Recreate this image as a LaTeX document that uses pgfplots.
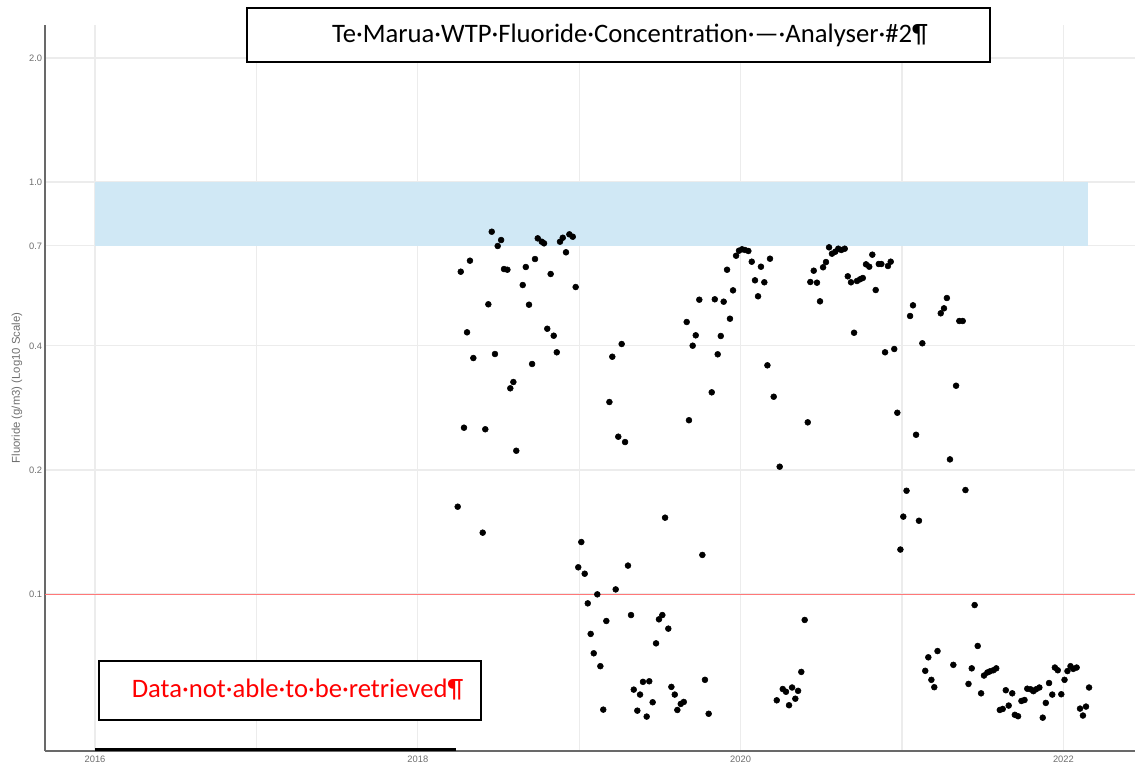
\documentclass[border=0pt]{standalone}
\usepackage{pgfplots}
\usepackage{pgfplotstable}
\pgfplotsset{compat=1.18}
\usepackage{fontspec}
\setmainfont{Liberation Sans}
\newfontfamily\carlito{Carlito}
\definecolor{bandblue}{RGB}{208,232,245}
\definecolor{refred}{RGB}{255,120,120}
\definecolor{gridgray}{RGB}{236,236,236}
\definecolor{axisgray}{RGB}{105,105,105}
\definecolor{ticktext}{RGB}{110,110,110}

\pgfplotstableread{
year value
2018.247 0.1629
2018.266 0.6058
2018.286 0.2533
2018.305 0.4317
2018.323 0.6442
2018.344 0.3739
2018.402 0.1409
2018.418 0.2511
2018.437 0.5049
2018.458 0.7575
2018.478 0.3824
2018.495 0.6994
2018.516 0.7231
2018.534 0.6149
2018.555 0.6125
2018.573 0.3157
2018.592 0.3270
2018.610 0.2227
2018.650 0.5623
2018.669 0.6219
2018.689 0.5037
2018.708 0.3617
2018.726 0.6503
2018.743 0.7300
2018.768 0.7163
2018.782 0.7099
2018.802 0.4404
2018.823 0.5981
2018.842 0.4236
2018.861 0.3861
2018.881 0.7163
2018.898 0.7325
2018.918 0.6752
2018.939 0.7466
2018.960 0.7366
2018.978 0.5560
2018.994 0.1161
2019.013 0.1337
2019.034 0.1120
2019.053 0.0949
2019.071 0.0800
2019.090 0.0718
2019.112 0.0998
2019.131 0.0668
2019.149 0.0524
2019.168 0.0860
2019.187 0.2924
2019.205 0.3767
2019.226 0.1026
2019.242 0.2409
2019.263 0.4044
2019.284 0.2338
2019.302 0.1172
2019.321 0.0889
2019.338 0.0586
2019.360 0.0521
2019.377 0.0570
2019.395 0.0612
2019.418 0.0504
2019.434 0.0614
2019.455 0.0546
2019.476 0.0759
2019.494 0.0868
2019.515 0.0889
2019.532 0.1532
2019.552 0.0824
2019.571 0.0595
2019.592 0.0570
2019.608 0.0523
2019.629 0.0541
2019.648 0.0547
2019.666 0.4573
2019.680 0.2641
2019.703 0.4006
2019.722 0.4245
2019.744 0.5180
2019.763 0.1244
2019.779 0.0619
2019.802 0.0512
2019.821 0.3087
2019.840 0.5192
2019.858 0.3818
2019.877 0.4229
2019.895 0.5123
2019.916 0.6125
2019.934 0.4658
2019.953 0.5458
2019.972 0.6624
2019.990 0.6813
2020.009 0.6867
2020.027 0.6840
2020.048 0.6801
2020.069 0.6406
2020.089 0.5773
2020.108 0.5280
2020.126 0.6229
2020.147 0.5710
2020.166 0.3590
2020.182 0.6514
2020.205 0.3012
2020.224 0.0552
2020.242 0.2037
2020.261 0.0588
2020.281 0.0579
2020.300 0.0537
2020.319 0.0593
2020.339 0.0557
2020.356 0.0582
2020.376 0.0647
2020.397 0.0865
2020.416 0.2610
2020.432 0.5719
2020.453 0.6092
2020.473 0.5697
2020.492 0.5133
2020.511 0.6209
2020.529 0.6394
2020.548 0.6942
2020.566 0.6699
2020.587 0.6775
2020.605 0.6889
2020.624 0.6840
2020.645 0.6889
2020.664 0.5904
2020.684 0.5710
2020.703 0.4307
2020.721 0.5751
2020.740 0.5806
2020.757 0.5848
2020.777 0.6313
2020.797 0.6229
2020.816 0.6663
2020.837 0.5468
2020.856 0.6324
2020.872 0.6324
2020.895 0.3861
2020.913 0.6254
2020.930 0.6406
2020.952 0.3933
2020.971 0.2754
2020.990 0.1282
2021.008 0.1541
2021.028 0.1781
2021.050 0.4729
2021.068 0.5020
2021.087 0.2435
2021.105 0.1506
2021.126 0.4060
2021.144 0.0651
2021.163 0.0702
2021.182 0.0619
2021.200 0.0594
2021.220 0.0727
2021.240 0.4801
2021.260 0.4936
2021.278 0.5229
2021.297 0.2122
2021.318 0.0673
2021.335 0.3203
2021.355 0.4599
2021.376 0.4599
2021.393 0.1788
2021.412 0.0605
2021.432 0.0660
2021.450 0.0940
2021.469 0.0748
2021.490 0.0574
2021.508 0.0634
2021.529 0.0645
2021.545 0.0649
2021.566 0.0653
2021.584 0.0660
2021.606 0.0523
2021.624 0.0526
2021.643 0.0584
2021.661 0.0536
2021.683 0.0574
2021.699 0.0509
2021.719 0.0505
2021.740 0.0550
2021.759 0.0553
2021.776 0.0589
2021.797 0.0587
2021.814 0.0581
2021.830 0.0587
2021.851 0.0593
2021.872 0.0501
2021.891 0.0544
2021.911 0.0608
2021.931 0.0570
2021.947 0.0663
2021.965 0.0653
2021.987 0.0571
2022.007 0.0619
2022.025 0.0650
2022.044 0.0668
2022.061 0.0658
2022.082 0.0663
2022.103 0.0527
2022.121 0.0507
2022.140 0.0533
2022.159 0.0593
}\fluoride

\begin{document}
\begin{tikzpicture}
\useasboundingbox (0,0) rectangle (851.25pt,576.75pt);
\begin{axis}[
  at={(33.75pt,13.5pt)}, anchor=south west,
  scale only axis, width=817.5pt, height=544.5pt,
  ymode=log,
  xmin=2015.690, xmax=2022.4436,
  ymin=0.04158, ymax=2.405,
  axis lines=left,
  axis line style={-, draw=axisgray, line width=1.3pt},
  xtick={2016,2018,2020,2022},
  xticklabels={2016,2018,2020,2022},
  minor xtick={2017,2019,2021},
  ytick={0.1,0.2,0.4,0.7,1,2},
  yticklabels={0.1,0.2,0.4,0.7,1.0,2.0},
  minor ytick={},
  major tick length=0pt, minor tick length=0pt,
  xmajorgrids, xminorgrids, ymajorgrids,
  major grid style={draw=gridgray, line width=0.8pt},
  minor grid style={draw=gridgray, line width=0.8pt},
  /pgf/number format/assume math mode=true,
  xticklabel style={font=\fontsize{7}{8}\selectfont, text=ticktext},
  yticklabel style={font=\fontsize{7}{8}\selectfont, text=ticktext, inner sep=2pt},
  ylabel={Fluoride (g/m3) (Log10 Scale)},
  ylabel style={at={(axis description cs:-0.0257,0.5)}, anchor=center,
    font=\fontsize{8.5}{10}\selectfont, text=ticktext},
]
\addplot[fill=bandblue, draw=none, forget plot] coordinates {(2016,0.7) (2022.152,0.7) (2022.152,1.0) (2016,1.0)} -- cycle;
\addplot[refred, line width=0.7pt, forget plot] coordinates {(2015.690,0.1) (2022.4436,0.1)};
\addplot[only marks, mark=*, mark size=2.2pt, black] table[x=year, y=value] {\fluoride};
\end{axis}
% annotation boxes overlaid on the chart (pixel units of the reference)
\begin{scope}[x=0.75pt,y=0.75pt]
\draw[line width=2pt, black] (95,19.5) -- (456,19.5);
\draw[line width=1.5pt, black, fill=white] (247,761) rectangle (990,707);
\node[font={\carlito\fontsize{20}{24}\selectfont}, inner sep=0pt] at (630,734) {Te·Marua·WTP·Fluoride·Concentration·—·Analyser·\#2¶};
\draw[line width=1.5pt, black, fill=white] (99,108) rectangle (481,49);
\node[font={\carlito\fontsize{20}{24}\selectfont}, text=red, inner sep=0pt] at (297.5,79) {Data·not·able·to·be·retrieved¶};
\end{scope}
\end{tikzpicture}
\end{document}
